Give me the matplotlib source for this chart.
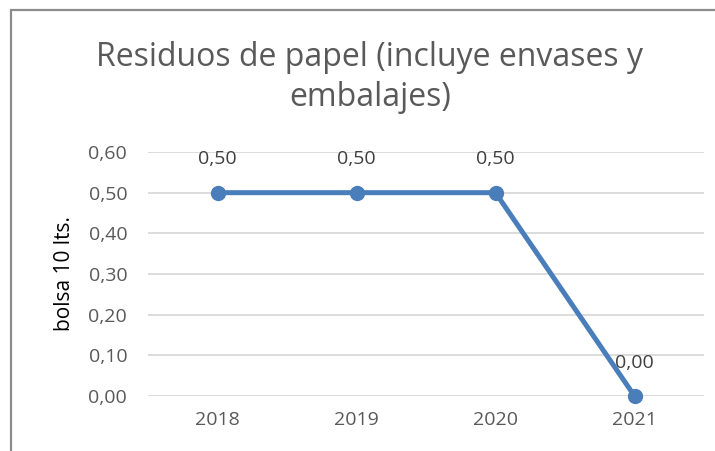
import matplotlib
matplotlib.use("Agg")
from matplotlib import pyplot as plt
from matplotlib.patches import Rectangle

years = ["2018", "2019", "2020", "2021"]
values = [0.50, 0.50, 0.50, 0.00]
y_ticks = [0.0, 0.1, 0.2, 0.3, 0.4, 0.5, 0.6]

plt.rcParams['font.family'] = ['Open Sans', 'DejaVu Sans']

W, H = 715, 451
fig = plt.figure(figsize=(W / 100, H / 100), dpi=100)
# plot area in pixels: x 148..704, y 152..396
ax = fig.add_axes([148 / W, 1 - 396 / H, (704 - 148) / W, (396 - 152) / H])

x = range(len(years))
ax.plot(x, values, color="#4a7ebb", linewidth=3.6, marker="o", markersize=10,
        solid_capstyle="round", zorder=3, clip_on=False)
for i, v in zip(x, values):
    ax.annotate(f"{v:.2f}".replace(".", ","), (i, v), xytext=(0, 24),
                textcoords="offset points", ha="center", va="center",
                fontsize=14, color="#404040", zorder=4)

ax.set_xlim(-0.5, len(years) - 0.5)
ax.set_ylim(0, 0.6)
ax.set_xticks(list(x))
ax.set_xticklabels(years)
ax.set_yticks(y_ticks)
ax.set_yticklabels([f"{t:.2f}".replace(".", ",") for t in y_ticks])
ax.grid(axis="y", color="#d9d9d9", linewidth=1.3)
ax.set_axisbelow(True)
for s in ax.spines.values():
    s.set_visible(False)
ax.tick_params(length=0, labelsize=14, labelcolor="#595959")
ax.tick_params(axis="x", pad=11)
ax.tick_params(axis="y", pad=15)
ax.set_ylabel("bolsa 10 lts.", fontsize=15, color="black", labelpad=10)

fig.text(370 / W, 1 - 58 / H, "Residuos de papel (incluye envases y", ha="center",
         va="center", fontsize=23, color="#595959")
fig.text(370 / W, 1 - 98 / H, "embalajes)", ha="center", va="center",
         fontsize=23, color="#595959")

fig.patches.append(Rectangle((11 / W, -0.1), 1.2, 1 - 10 / H + 0.1,
                             transform=fig.transFigure, fill=False,
                             edgecolor="#8c8c8c", linewidth=1.6))

fig.savefig("out.png", dpi=100)
